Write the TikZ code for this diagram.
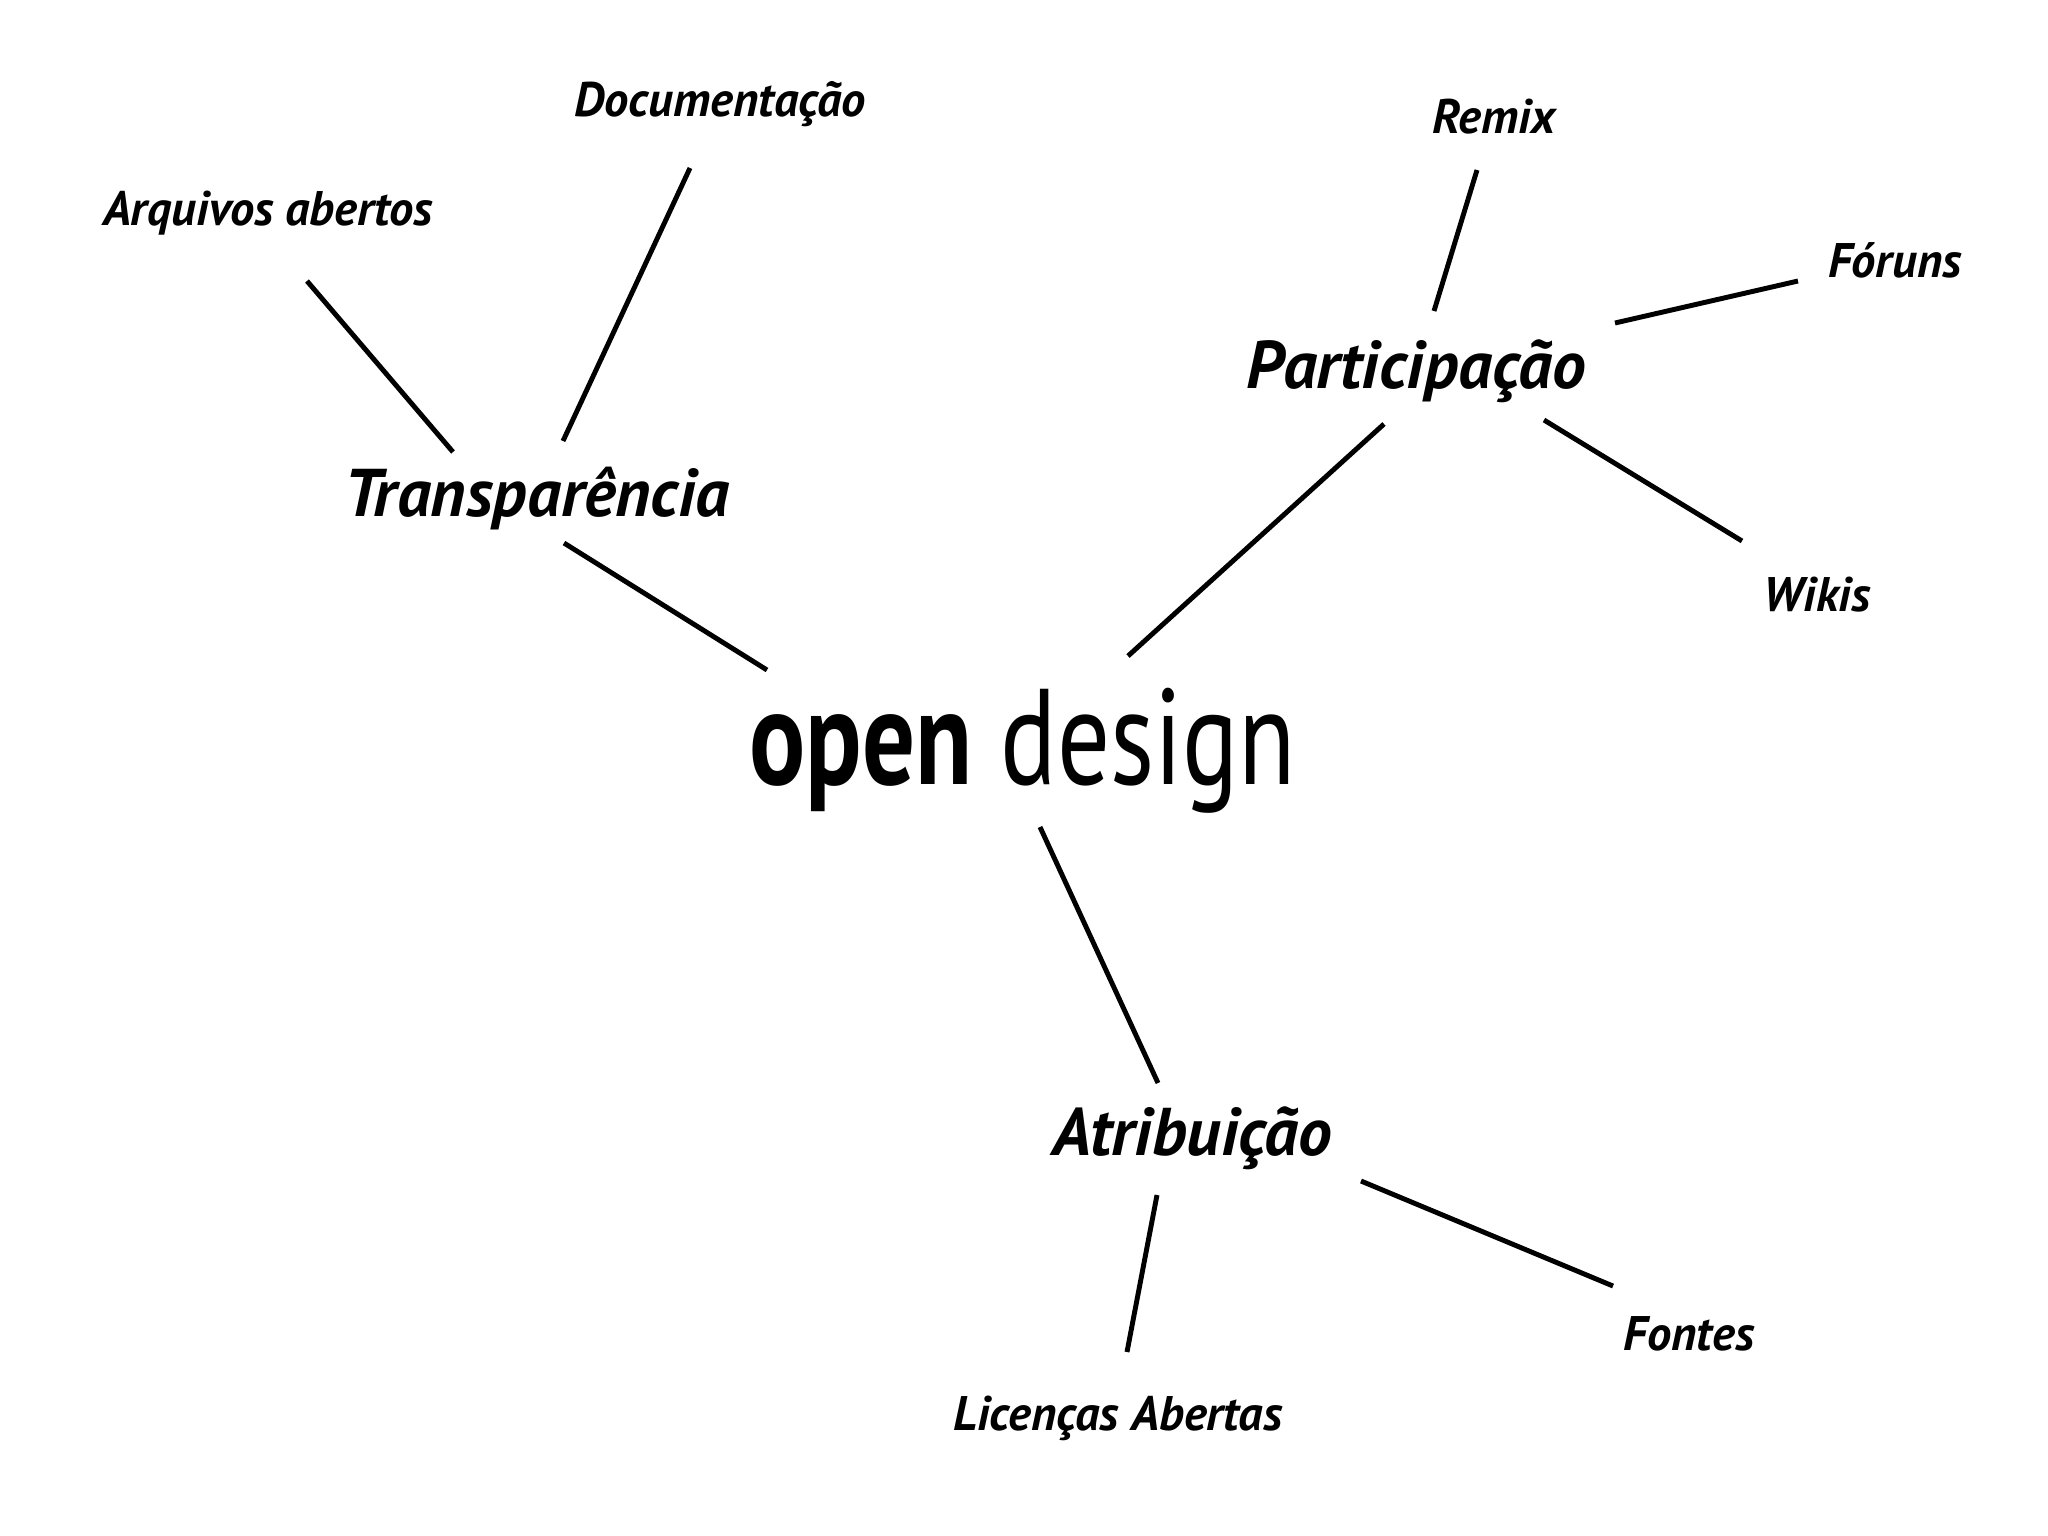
\documentclass[tikz,border=0pt]{standalone}
\usepackage{fontspec}
\setmainfont{PT Sans}
\usepackage{tikz}

\tikzset{
  topic/.style={anchor=base,inner sep=0pt,font=\fontsize{19.2}{21}\selectfont\bfseries\itshape},
  leaf/.style={anchor=base,inner sep=0pt,font=\fontsize{13.8}{15}\selectfont\bfseries\itshape},
  link/.style={line width=1.4pt}
}

\begin{document}
\begin{tikzpicture}[x=0.01cm,y=-0.01cm]
      \useasboundingbox (0,0) rectangle (2048,1536) ;
      % centre
      \node[anchor=base,inner sep=0pt] (opendes) at (1023,784) %
      {\scalebox{0.77}[1]{\fontsize{38.7}{40}\selectfont\textbf{open} design}} ;
      % themes
      \node[topic] (transp) at (537,516) {Transparência} ;
      \node[topic] (partic) at (1416,388) {Participação} ;
      \node[topic] (atrib) at (1192,1155) {Atribuição} ;
      % leaves
      \node[leaf] (arq) at (268,225) {Arquivos abertos} ;
      \node[leaf] (doc) at (720,116) {Documentação} ;
      \node[leaf] (remix) at (1494,133) {Remix} ;
      \node[leaf] (foruns) at (1895,277) {Fóruns} ;
      \node[leaf] (wikis) at (1817,611) {Wikis} ;
      \node[leaf] (lic) at (1118,1430) {Licenças Abertas} ;
      \node[leaf] (fontes) at (1689,1350) {Fontes} ;
      % links
      \draw[link] ([shift={(27,27)}]transp.base) -- ([shift={(-256,-114)}]opendes.base) ;
      \draw[link] ([shift={(39,56)}]arq.base) -- ([shift={(-84,-64)}]transp.base) ;
      \draw[link] ([shift={(-30,52)}]doc.base) -- ([shift={(26,-75)}]transp.base) ;
      \draw[link] ([shift={(-32,36)}]partic.base) -- ([shift={(105,-128)}]opendes.base) ;
      \draw[link] ([shift={(-17,37)}]remix.base) -- ([shift={(18,-77)}]partic.base) ;
      \draw[link] ([shift={(-97,4)}]foruns.base) -- ([shift={(199,-65)}]partic.base) ;
      \draw[link] ([shift={(128,32)}]partic.base) -- ([shift={(-75,-70)}]wikis.base) ;
      \draw[link] ([shift={(17,43)}]opendes.base) -- ([shift={(-34,-72)}]atrib.base) ;
      \draw[link] ([shift={(-35,40)}]atrib.base) -- ([shift={(9,-78)}]lic.base) ;
      \draw[link] ([shift={(169,26)}]atrib.base) -- ([shift={(-76,-64)}]fontes.base) ;
    \end{tikzpicture}
\end{document}
